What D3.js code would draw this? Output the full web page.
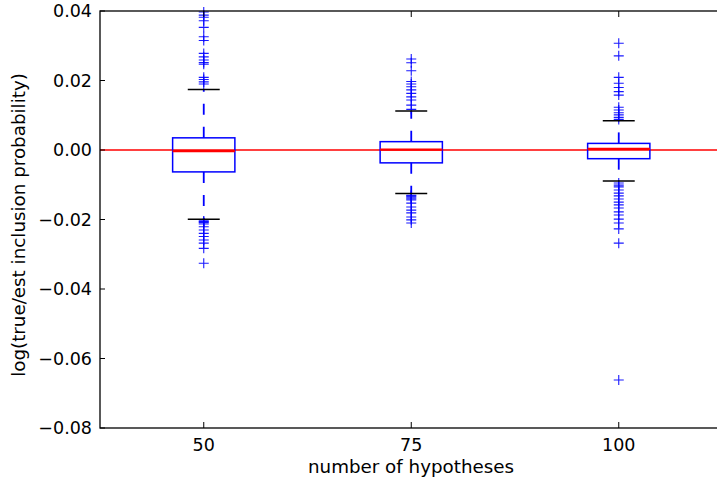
<!DOCTYPE html>
<html><head><meta charset="utf-8">
<script src="https://cdn.jsdelivr.net/npm/d3@7"></script>
<style>body{margin:0;background:#fff}svg{display:block;overflow:hidden}text{font-family:"DejaVu Sans",sans-serif}</style>
</head><body>
<script>
const categories = ["50", "75", "100"];
const q1 = [-0.0063, -0.0037, -0.0025];
const medians = [-0.0003, 0.0001, 0.0003];
const q3 = [0.0035, 0.0024, 0.0019];
const whiskerLow = [-0.0199, -0.0125, -0.0089];
const whiskerHigh = [0.0174, 0.0112, 0.0084];
const fliers50 = [0.0397, 0.0388, 0.0382, 0.0372, 0.0353, 0.0326, 0.0315, 0.0278, 0.0268, 0.0259, 0.0252, 0.0247, 0.0209, 0.0203, 0.0196, 0.0190,
  -0.0204, -0.0206, -0.0209, -0.0213, -0.0221, -0.0230, -0.0240, -0.0249, -0.0259, -0.0268, -0.0283, -0.0326];
const fliers75 = [0.0262, 0.0251, 0.0228, 0.0197, 0.0190, 0.0182, 0.0173, 0.0163, 0.0153, 0.0144, 0.0129, 0.0117,
  -0.0130, -0.0132, -0.0135, -0.0138, -0.0141, -0.0144, -0.0153, -0.0164, -0.0173, -0.0181, -0.0193, -0.0201, -0.0210];
const fliers100 = [0.0307, 0.0271, 0.0209, 0.0192, 0.0180, 0.0168, 0.0158, 0.0123, 0.0115, 0.0107, 0.0101, 0.0094, 0.0088,
  -0.0095, -0.0101, -0.0106, -0.0115, -0.0124, -0.0132, -0.0141, -0.0150, -0.0158, -0.0167, -0.0178, -0.0187, -0.0199, -0.0210, -0.0227, -0.0268, -0.0662];
const fliers = [fliers50, fliers75, fliers100];
const yTicks = [0.04, 0.02, 0.00, -0.02, -0.04, -0.06, -0.08];
const xLabel = "number of hypotheses";
const yLabel = "log(true/est inclusion probability)";

(function () {
const W = 717, H = 485;
const mL = 100, mT = 11, mB = 428, mR = 722.5;
const svg = d3.select("body").append("svg").attr("width", W).attr("height", H);

const x = d3.scaleLinear().domain([0.5, 3.5]).range([mL, mR]);
const y = d3.scaleLinear().domain([-0.08, 0.04]).range([mB, mT]);
const unit = x(1) - x(0);
const boxHW = 0.15 * unit, capHW = 0.077 * unit;

const g = svg.append("g");
g.append("line").attr("x1", mL).attr("x2", mR).attr("y1", y(0)).attr("y2", y(0))
  .attr("stroke", "red").attr("stroke-width", 1.5);

categories.forEach((c, i) => {
  const cx = x(i + 1);
  [[q3[i], whiskerHigh[i]], [q1[i], whiskerLow[i]]].forEach(([a, b]) => {
    g.append("line").attr("x1", cx).attr("x2", cx).attr("y1", y(a)).attr("y2", y(b))
      .attr("stroke", "blue").attr("stroke-width", 1.8).attr("stroke-dasharray", "11,12");
  });
  fliers[i].forEach(v => {
    const py = y(v);
    g.append("path").attr("d", `M${cx - 5},${py}H${cx + 5}M${cx},${py - 5}V${py + 5}`)
      .attr("stroke", "blue").attr("stroke-width", 1.1).attr("fill", "none").attr("opacity", 0.9);
  });
  [whiskerHigh[i], whiskerLow[i]].forEach(v => {
    g.append("line").attr("x1", cx - capHW).attr("x2", cx + capHW).attr("y1", y(v)).attr("y2", y(v))
      .attr("stroke", "black").attr("stroke-width", 1.5);
  });
  g.append("rect").attr("x", cx - boxHW).attr("width", 2 * boxHW)
    .attr("y", y(q3[i])).attr("height", y(q1[i]) - y(q3[i]))
    .attr("fill", "none").attr("stroke", "blue").attr("stroke-width", 1.5);
  g.append("line").attr("x1", cx - boxHW).attr("x2", cx + boxHW).attr("y1", y(medians[i])).attr("y2", y(medians[i]))
    .attr("stroke", "red").attr("stroke-width", 2.2);
});

svg.append("rect").attr("x", mL).attr("y", mT).attr("width", mR - mL).attr("height", mB - mT)
  .attr("fill", "none").attr("stroke", "black").attr("stroke-width", 1.3);

const fs = "17.5px", lfs = "18.3px";
const ax = svg.append("g");
yTicks.forEach(t => {
  const py = y(t);
  ax.append("line").attr("x1", mL).attr("x2", mL + 5).attr("y1", py).attr("y2", py).attr("stroke", "black");
  ax.append("line").attr("x1", mR).attr("x2", mR - 5).attr("y1", py).attr("y2", py).attr("stroke", "black");
  ax.append("text").attr("x", mL - 8).attr("y", py).attr("dy", "0.36em").attr("text-anchor", "end")
    .attr("font-size", fs).text(d3.format(".2f")(t).replace("-", "\u2212"));
});
categories.forEach((c, i) => {
  const px = x(i + 1);
  ax.append("line").attr("x1", px).attr("x2", px).attr("y1", mB).attr("y2", mB - 6).attr("stroke", "black");
  ax.append("line").attr("x1", px).attr("x2", px).attr("y1", mT).attr("y2", mT + 6).attr("stroke", "black");
  ax.append("text").attr("x", px).attr("y", mB + 23).attr("text-anchor", "middle").attr("font-size", fs).text(c);
});
ax.append("text").attr("x", 411).attr("y", 473).attr("text-anchor", "middle").attr("font-size", lfs).text(xLabel);
ax.append("text").attr("transform", `translate(25,225) rotate(-90)`).attr("text-anchor", "middle")
  .attr("font-size", lfs).text(yLabel);
})();
</script>
</body></html>
